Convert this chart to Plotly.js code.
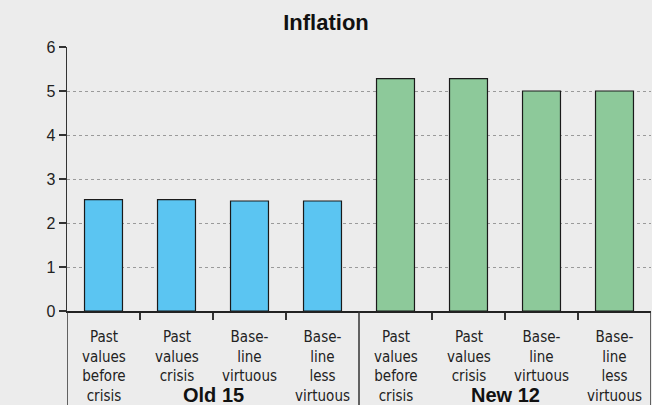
<!DOCTYPE html>
<html>
<head>
<meta charset="utf-8">
<script src="https://cdn.plot.ly/plotly-3.0.1.min.js"></script>
<style>html,body{margin:0;padding:0;background:#ececec;}#chart{width:652px;height:405px;}</style>
</head>
<body>
<div id="chart"></div>
<script>
const groups = ["Old 15", "New 12"];
const categoryLines = [
  ["Past", "values", "before", "crisis"],
  ["Past", "values", "crisis"],
  ["Base-", "line", "virtuous"],
  ["Base-", "line", "less", "virtuous"]
];
const old15 = [2.53, 2.53, 2.5, 2.5];
const new12 = [5.28, 5.28, 5.0, 5.0];

const nPer = categoryLines.length;
const xOld = old15.map((_, i) => i);
const xNew = new12.map((_, i) => i + nPer);

const traces = [
  {type: "bar", x: xOld, y: old15, width: 0.52, name: groups[0],
   marker: {color: "#5bc5f2", line: {color: "#1a1a1a", width: 1.2}}, hoverinfo: "y"},
  {type: "bar", x: xNew, y: new12, width: 0.52, name: groups[1],
   marker: {color: "#8dc99a", line: {color: "#1a1a1a", width: 1.2}}, hoverinfo: "y"}
];

const annotations = [];
[0, 1].forEach(g => {
  categoryLines.forEach((lines, ci) => {
    annotations.push({
      x: g * nPer + ci, xref: "x", y: 0, yref: "paper",
      yanchor: "top", xanchor: "center", showarrow: false, borderpad: 0,
      yshift: -16, text: lines.join("<br>"),
      font: {family: "DejaVu Sans Condensed, Liberation Sans Narrow, sans-serif", size: 15, color: "#222"}
    });
  });
  annotations.push({
    x: g * nPer + (nPer - 1) / 2, xref: "x", y: 0, yref: "paper",
    yanchor: "top", xanchor: "center", showarrow: false, borderpad: 0,
    yshift: -72, text: "<b>" + groups[g] + "</b>",
    font: {family: "Liberation Sans, Arial, sans-serif", size: 20, color: "#111"}
  });
});

const shapes = [-0.5, nPer - 0.5, 2 * nPer - 0.5].map(xv => ({
  type: "line", xref: "x", yref: "paper", x0: xv, x1: xv, y0: 0, y1: -0.4,
  line: {color: "#333", width: 1.5}
}));

const boundaries = [];
for (let i = 0; i < 2 * nPer - 1; i++) if (i !== nPer - 1) boundaries.push(i + 0.5);

const layout = {
  width: 652, height: 405,
  margin: {l: 67, r: 1, t: 46.7, b: 94.3},
  paper_bgcolor: "#ececec", plot_bgcolor: "#ececec",
  showlegend: false, barmode: "overlay",
  title: {text: "<b>Inflation</b>", xref: "container", x: 0.5, yref: "container", y: 0.945, yanchor: "middle",
          font: {family: "Liberation Sans, Arial, sans-serif", size: 22, color: "#111"}},
  xaxis: {range: [-0.5, 2 * nPer - 0.5], tickmode: "array", tickvals: boundaries,
          ticks: "outside", ticklen: 7, tickwidth: 1.5, tickcolor: "#333",
          showticklabels: false, showgrid: false, zeroline: false,
          showline: true, linecolor: "#222", linewidth: 2},
  yaxis: {range: [0, 6], dtick: 1, tick0: 0, ticks: "outside", ticklen: 7, tickwidth: 1.5, tickcolor: "#333",
          showline: true, linecolor: "#333", linewidth: 1.5, zeroline: false,
          showgrid: true, gridcolor: "#9a9a9a", griddash: "dot", gridwidth: 1,
          tickfont: {family: "Liberation Sans, Arial, sans-serif", size: 16, color: "#222"}},
  annotations: annotations,
  shapes: shapes
};

Plotly.newPlot("chart", traces, layout, {displayModeBar: false, staticPlot: true});
</script>
</body>
</html>
